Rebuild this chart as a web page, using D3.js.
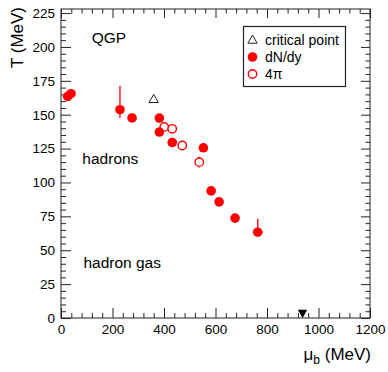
<!DOCTYPE html>
<html>
<head>
<meta charset="utf-8">
<script src="https://cdn.jsdelivr.net/npm/d3@7"></script>
<style>
  body { margin: 0; background: #fff; }
  svg { display: block; font-family: "Liberation Sans", Arial, Helvetica, sans-serif; }
</style>
</head>
<body>
<div id="chart"></div>
<script>
// freeze-out points (mu_b in MeV, T in MeV)
const dndyMu = [26, 39, 229, 276, 382, 382, 432, 553, 583, 614, 676, 764];
const dndyT = [163.5, 165.5, 153.7, 147.6, 147.5, 137.2, 129.5, 125.6, 93.8, 85.7, 73.7, 63.3];
const dndyErrUp = [0, 0, 17.7, 0, 0, 0, 0, 0, 0, 0, 0, 9.9];
const dndyErrDown = [0, 0, 6.2, 0, 0, 0, 0, 0, 0, 0, 0, 0];
const dndyErrMu = [0, 0, 0, 0, 0, 0, 0, 0, 0, 0, 0, 19];

const fourPiMu = [401, 432, 471, 537];
const fourPiT = [141, 139.6, 127.3, 115];
const fourPiErr = [0, 0, 0, 4];

const critMu = [360];
const critT = [161];

const nuclMu = [938];
const nuclT = [4];

const xTicks = [0, 200, 400, 600, 800, 1000, 1200];
const yTicks = [0, 25, 50, 75, 100, 125, 150, 175, 200, 225];
const legendLabels = ['critical point', 'dN/dy', '4\u03c0'];
const regionLabels = ['QGP', 'hadrons', 'hadron gas'];

const width = 388, height = 372;
const margin = {left: 61, right: 18, top: 9, bottom: 54};
const w = width - margin.left - margin.right;
const h = height - margin.top - margin.bottom;

const svg = d3.select('#chart').append('svg')
    .attr('width', width)
    .attr('height', height);

const x = d3.scaleLinear().domain([0, 1200]).range([0, w]);
const y = d3.scaleLinear().domain([0, 228]).range([h, 0]);

const g = svg.append('g')
    .attr('transform', 'translate(' + margin.left + ',' + margin.top + ')');

// minor tick values
const xMinor = d3.range(0, 1201, 40).filter((v) => v % 200 !== 0);
const yMinor = d3.range(0, 228, 5).filter((v) => v % 25 !== 0);

function styleAxis(sel) {
  sel.select('.domain').remove();
  sel.selectAll('line').attr('stroke', '#222').attr('stroke-width', 1);
  sel.selectAll('text').attr('fill', '#000').style('font-size', '13.5px');
}

// bottom axis (ticks inward)
g.append('g').attr('transform', 'translate(0,' + h + ')')
    .call(d3.axisBottom(x).tickValues(xTicks).tickFormat(d3.format('d'))
        .tickSizeInner(-10).tickSizeOuter(0).tickPadding(6))
    .call(styleAxis);
g.append('g').attr('transform', 'translate(0,' + h + ')')
    .call(d3.axisBottom(x).tickValues(xMinor).tickSizeInner(-5).tickSizeOuter(0).tickFormat(''))
    .call(styleAxis);
// top axis
g.append('g')
    .call(d3.axisTop(x).tickValues(xTicks).tickSizeInner(-9).tickSizeOuter(0).tickFormat(''))
    .call(styleAxis);
g.append('g')
    .call(d3.axisTop(x).tickValues(xMinor).tickSizeInner(-4.5).tickSizeOuter(0).tickFormat(''))
    .call(styleAxis);
// left axis
g.append('g')
    .call(d3.axisLeft(y).tickValues(yTicks).tickFormat(d3.format('d'))
        .tickSizeInner(-10).tickSizeOuter(0).tickPadding(6))
    .call(styleAxis);
g.append('g')
    .call(d3.axisLeft(y).tickValues(yMinor).tickSizeInner(-5).tickSizeOuter(0).tickFormat(''))
    .call(styleAxis);
// right axis
g.append('g').attr('transform', 'translate(' + w + ',0)')
    .call(d3.axisRight(y).tickValues(yTicks).tickSizeInner(-9).tickSizeOuter(0).tickFormat(''))
    .call(styleAxis);
g.append('g').attr('transform', 'translate(' + w + ',0)')
    .call(d3.axisRight(y).tickValues(yMinor).tickSizeInner(-4.5).tickSizeOuter(0).tickFormat(''))
    .call(styleAxis);

// frame
g.append('rect')
    .attr('width', w)
    .attr('height', h)
    .attr('fill', 'none')
    .attr('stroke', '#222')
    .attr('stroke-width', 1);

// axis titles
svg.append('text')
    .attr('transform', 'translate(22.5,7) rotate(-90)')
    .attr('text-anchor', 'end')
    .style('font-size', '17px')
    .text('T (MeV)');

const xTitle = svg.append('text')
    .attr('x', margin.left + w + 1)
    .attr('y', 360)
    .attr('text-anchor', 'end')
    .style('font-size', '17px');
xTitle.append('tspan').text('\u03bc');
xTitle.append('tspan').attr('dy', 4).style('font-size', '12px').text('b');
xTitle.append('tspan').attr('dy', -4).text(' (MeV)');

// region labels, anchored in data units (mu, T)
const regionAt = [[119, 203], [83, 113.5], [87, 37]];
g.selectAll('.region')
    .data(regionLabels)
    .enter().append('text')
    .attr('class', 'region')
    .attr('x', (d, i) => x(regionAt[i][0]))
    .attr('y', (d, i) => y(regionAt[i][1]))
    .style('font-size', '15.5px')
    .text((d) => d);

const red = '#ff0000';

// dN/dy error bars
const dndy = dndyMu.map((m, i) => ({mu: m, t: dndyT[i], up: dndyErrUp[i], dn: dndyErrDown[i], em: dndyErrMu[i]}));
g.selectAll('.errv')
    .data(dndy.filter((d) => d.up > 0 || d.dn > 0))
    .enter().append('line')
    .attr('x1', (d) => x(d.mu)).attr('x2', (d) => x(d.mu))
    .attr('y1', (d) => y(d.t + d.up)).attr('y2', (d) => y(d.t - d.dn))
    .attr('stroke', red).attr('stroke-width', 1.3);
g.selectAll('.errh')
    .data(dndy.filter((d) => d.em > 0))
    .enter().append('line')
    .attr('x1', (d) => x(d.mu - d.em)).attr('x2', (d) => x(d.mu + d.em))
    .attr('y1', (d) => y(d.t)).attr('y2', (d) => y(d.t))
    .attr('stroke', red).attr('stroke-width', 1.3);

// 4pi error bars
const fourPi = fourPiMu.map((m, i) => ({mu: m, t: fourPiT[i], e: fourPiErr[i]}));
g.selectAll('.err4')
    .data(fourPi.filter((d) => d.e > 0))
    .enter().append('line')
    .attr('x1', (d) => x(d.mu)).attr('x2', (d) => x(d.mu))
    .attr('y1', (d) => y(d.t + d.e)).attr('y2', (d) => y(d.t - d.e))
    .attr('stroke', red).attr('stroke-width', 1.3);

// markers
g.selectAll('.open')
    .data(fourPi)
    .enter().append('circle')
    .attr('cx', (d) => x(d.mu)).attr('cy', (d) => y(d.t))
    .attr('r', 4.2)
    .attr('fill', '#fff')
    .attr('stroke', red).attr('stroke-width', 1.4);

g.selectAll('.filled')
    .data(dndy)
    .enter().append('circle')
    .attr('cx', (d) => x(d.mu)).attr('cy', (d) => y(d.t))
    .attr('r', 4.8)
    .attr('fill', red);

const triUp = d3.symbol().type(d3.symbolTriangle).size(38);
g.selectAll('.crit')
    .data(critMu.map((m, i) => ({mu: m, t: critT[i]})))
    .enter().append('path')
    .attr('d', triUp)
    .attr('transform', (d) => 'translate(' + x(d.mu) + ',' + y(d.t) + ')')
    .attr('fill', 'none')
    .attr('stroke', '#222').attr('stroke-width', 1);

g.selectAll('.nucl')
    .data(nuclMu.map((m, i) => ({mu: m, t: nuclT[i]})))
    .enter().append('path')
    .attr('d', triUp)
    .attr('transform', (d) => 'translate(' + x(d.mu) + ',' + y(d.t) + ') rotate(180)')
    .attr('fill', '#000');

// legend
const leg = svg.append('g').attr('transform', 'translate(243.5,26.5)');
leg.append('rect')
    .attr('width', 102).attr('height', 60)
    .attr('fill', '#fff')
    .attr('stroke', '#222').attr('stroke-width', 1.2);
const rowY = [13, 30.5, 47.5];
leg.append('path').attr('d', triUp)
    .attr('transform', 'translate(9,' + (rowY[0] + 1) + ')')
    .attr('fill', 'none').attr('stroke', '#222').attr('stroke-width', 1);
leg.append('circle').attr('cx', 9).attr('cy', rowY[1]).attr('r', 4.8).attr('fill', red);
leg.append('circle').attr('cx', 9).attr('cy', rowY[2]).attr('r', 4.2)
    .attr('fill', '#fff').attr('stroke', red).attr('stroke-width', 1.4);
leg.selectAll('.lt')
    .data(legendLabels)
    .enter().append('text')
    .attr('x', 21.5)
    .attr('y', (d, i) => rowY[i])
    .attr('dy', '0.36em')
    .style('font-size', '14px')
    .text((d) => d);
</script>
</body>
</html>
